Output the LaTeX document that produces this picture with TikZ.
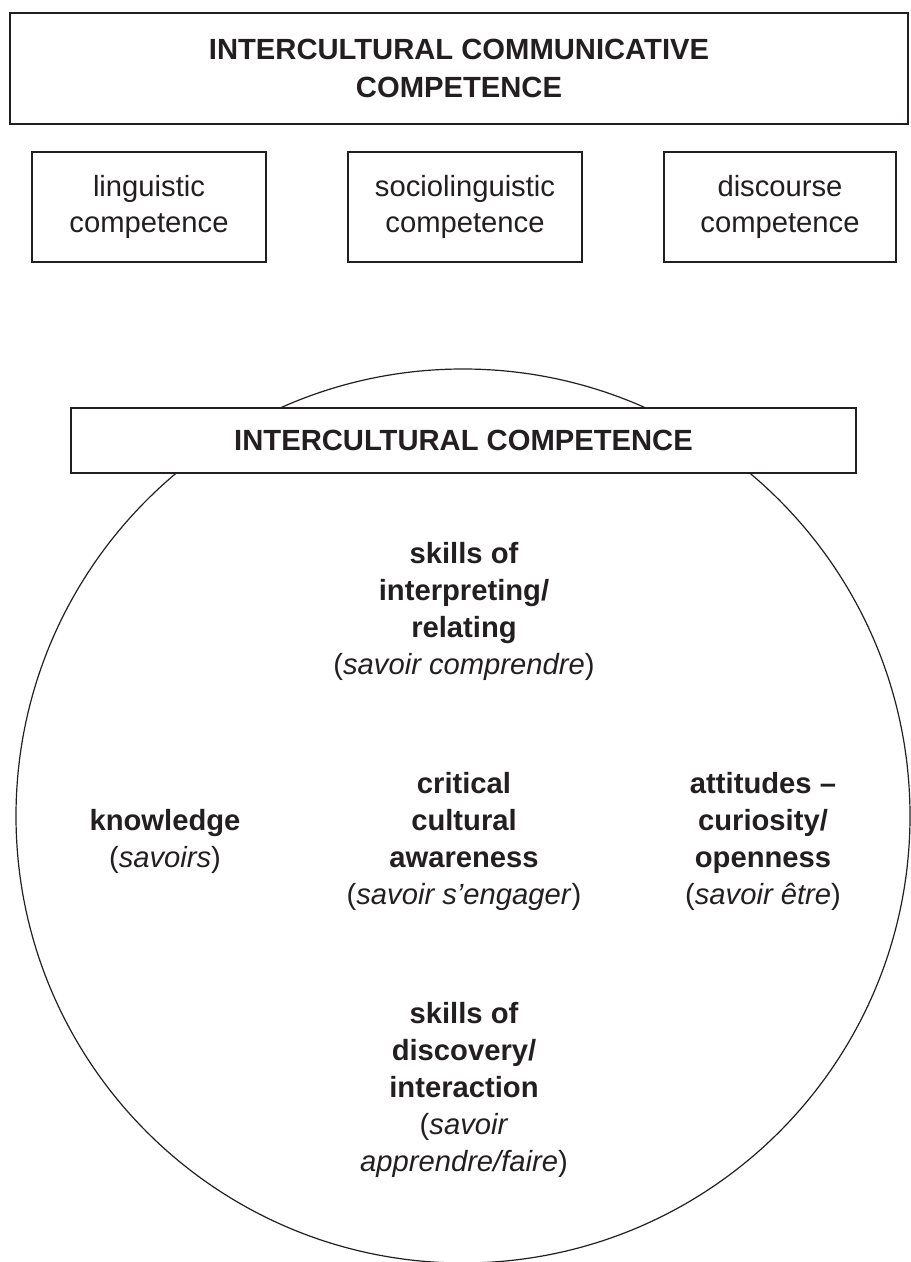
\documentclass[tikz,border=0pt]{standalone}
\usepackage{fontspec}
\setmainfont{Liberation Sans}
\definecolor{inkgray}{HTML}{231F20}
\begin{document}
\begin{tikzpicture}[x=0.5pt,y=-0.5pt,
  compbox/.style={draw=inkgray, line width=0.8pt, fill=white, inner sep=0pt, align=center, text=inkgray},
  itemtext/.style={align=center, text=inkgray, inner sep=0pt, font=\fontsize{14.6}{18.5}\selectfont}]
\useasboundingbox (0,0) rectangle (910,1262);

\draw[draw=inkgray, line width=0.6pt] (463,816) circle [radius=223.5pt];

\node[compbox, minimum width=449pt, minimum height=55.5pt, font=\fontsize{14.6}{19}\selectfont\bfseries] (icc) at (459,68.5) {INTERCULTURAL COMMUNICATIVE\\COMPETENCE};
\node[compbox, minimum width=117pt, minimum height=55pt, font=\fontsize{14.6}{18}\selectfont] (ling) at (149,207) {linguistic\\competence};
\node[compbox, minimum width=117pt, minimum height=55pt, font=\fontsize{14.6}{18}\selectfont] (socio) at (465,207) {sociolinguistic\\competence};
\node[compbox, minimum width=116pt, minimum height=55pt, font=\fontsize{14.6}{18}\selectfont] (disc) at (780,207) {discourse\\competence};

\node[compbox, minimum width=392.5pt, minimum height=32.5pt, font=\fontsize{14.6}{18}\selectfont\bfseries] (ic) at (463.5,440.5) {INTERCULTURAL COMPETENCE};

\node[itemtext] (interp) at (464,611) {\textbf{skills of}\\\textbf{interpreting/}\\\textbf{relating}\\(\textit{savoir comprendre})};
\node[itemtext] (know) at (165,841.5) {\textbf{knowledge}\\(\textit{savoirs})};
\node[itemtext] (crit) at (464,841) {\textbf{critical}\\\textbf{cultural}\\\textbf{awareness}\\(\textit{savoir s'engager})};
\node[itemtext] (att) at (763,841) {\textbf{attitudes –}\\\textbf{curiosity/}\\\textbf{openness}\\(\textit{savoir être})};
\node[itemtext] (discov) at (464,1090) {\textbf{skills of}\\\textbf{discovery/}\\\textbf{interaction}\\(\textit{savoir}\\\textit{apprendre/faire})};
\end{tikzpicture}
\end{document}
